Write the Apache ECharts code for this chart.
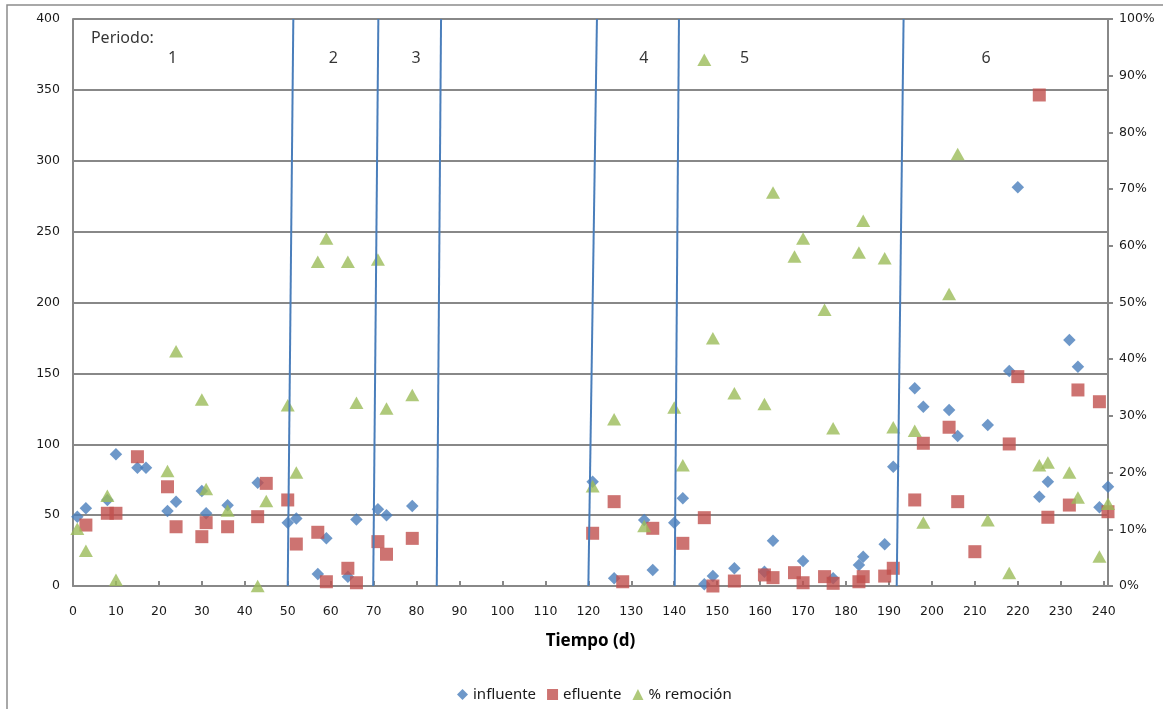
<!DOCTYPE html>
<html>
<head>
<meta charset="utf-8">
<script src="https://cdn.jsdelivr.net/npm/echarts@6/dist/echarts.min.js"></script>
<style>
html,body{margin:0;padding:0;background:#fff;}
#chart{width:1171px;height:709px;}
</style>
</head>
<body>
<div id="chart"></div>
<script>
// ---- Data ----
const influenteDays = [1,3,8,10,15,17,22,24,30,31,36,43,50,52,57,59,64,66,71,73,79,121,126,133,135,140,142,147,149,154,161,163,170,177,183,184,189,191,196,198,204,206,213,218,220,225,227,232,234,239,241];
const influenteVals = [48.9,54.8,60.7,92.9,83.5,83.5,52.9,59.5,67,51.3,57,72.9,44.7,47.7,8.5,33.6,6.6,47,54.1,50,56.4,73.6,5.4,46.6,11.3,44.7,61.9,1.2,7,12.5,10,32,17.6,5.4,14.8,20.7,29.4,84.2,139.5,126.5,124.2,105.8,113.6,151.7,281.3,63,73.6,173.5,154.7,55.5,70];

const efluenteDays = [3,8,10,15,22,24,30,31,36,43,45,50,52,57,59,64,66,71,73,79,121,126,128,135,142,147,149,154,161,163,168,170,175,177,183,184,189,191,196,198,204,206,210,218,220,225,227,232,234,239,241];
const efluenteVals = [43,51.3,51.3,91.2,70,41.8,34.8,44.7,41.8,48.9,72.4,60.7,29.6,37.9,3,12.5,2.3,31.3,22.4,33.6,37.2,59.5,3,40.7,30.1,48.2,0,3.5,7.8,5.9,9.4,2.3,6.6,1.9,3,6.6,7,12.5,60.7,100.7,112,59.5,24.2,100.2,147.7,346.4,48.5,57.1,138.3,130,52.4];

const remocionDays = [1,3,8,10,22,24,30,31,36,43,45,50,52,57,59,64,66,71,73,79,121,126,133,140,142,147,149,154,161,163,168,170,175,177,183,184,189,191,196,198,204,206,213,218,225,227,232,234,239,241];
const remocionVals = [10.1,6.2,15.9,1.1,20.3,41.4,32.9,17.1,13.3,0,15,31.9,20,57.2,61.3,57.2,32.3,57.6,31.3,33.7,17.6,29.4,10.6,31.5,21.3,92.8,43.7,34,32.1,69.4,58.1,61.3,48.7,27.8,58.8,64.4,57.8,28,27.4,11.2,51.5,76.2,11.6,2.3,21.3,21.8,20,15.6,5.2,14.5];

// period boundaries: [day at bottom, day at top]
const periodBounds = [[50,51.3],[69.9,71.1],[84.7,85.7],[120,122],[140.1,141.1],[191.8,193.4]];
// period labels: [day, value, text]
const periodLabels = [[11.5,386.4,'Periodo:'],[23.2,372,'1'],[60.6,372,'2'],[79.9,372,'3'],[132.9,372,'4'],[156.4,372,'5'],[212.6,372,'6']];

const xTicks = {min:0, max:241, interval:10};
const yLeft = {min:0, max:400, interval:50};
const yRight = {min:0, max:100, interval:10};

// ---- Build ----
const zip = (a,b) => a.map((d,i)=>[d,b[i]]);
const gridCol = '#888888';
const tickFont = {fontFamily:'DejaVu Sans', fontSize:12.5, color:'#1a1a1a'};

const boundarySeries = periodBounds.map((b,i)=>({
  type:'line', name:'b'+i, xAxisIndex:0, yAxisIndex:0,
  data:[[b[0],0],[b[1],400]], symbol:'none', silent:true, z:10,
  lineStyle:{color:'#4a7ebb', width:2}
}));

const chart = echarts.init(document.getElementById('chart'), null, {renderer:'canvas'});
chart.setOption({
  backgroundColor:'#fff',
  animation:false,
  grid:{left:73, right:63, top:19, bottom:123, containLabel:false},
  legend:{
    data:[{name:'influente', icon:'diamond'},{name:'efluente', icon:'rect'},{name:'% remoción', icon:'triangle'}],
    left:452, top:682, itemWidth:11, itemHeight:11, itemGap:11,
    textStyle:{fontFamily:'Noto Sans', fontSize:15, color:'#1a1a1a'}
  },
  xAxis:{
    type:'value', min:xTicks.min, max:xTicks.max, interval:xTicks.interval,
    name:'Tiempo (d)', nameLocation:'middle', nameGap:47,
    nameTextStyle:{fontFamily:'Noto Sans', fontSize:17, fontWeight:'bold', color:'#000'},
    axisLine:{show:true, onZero:false, lineStyle:{color:gridCol, width:2}},
    axisTick:{show:true, inside:true, length:5, lineStyle:{color:gridCol, width:2}},
    axisLabel:Object.assign({margin:19, showMaxLabel:false}, tickFont),
    splitLine:{show:false}
  },
  yAxis:[
    {
      type:'value', min:yLeft.min, max:yLeft.max, interval:yLeft.interval, position:'left',
      axisLine:{show:true, lineStyle:{color:gridCol, width:2}},
      axisTick:{show:false},
      axisLabel:Object.assign({margin:13}, tickFont),
      splitLine:{show:true, lineStyle:{color:gridCol, width:2}}
    },
    {
      type:'value', min:yRight.min, max:yRight.max, interval:yRight.interval, position:'right',
      axisLine:{show:true, lineStyle:{color:gridCol, width:2}},
      axisTick:{show:true, inside:false, length:5, lineStyle:{color:gridCol, width:2}},
      axisLabel:Object.assign({margin:11, formatter:'{value}%'}, tickFont),
      splitLine:{show:false}
    }
  ],
  series:[
    {type:'scatter', name:'influente', yAxisIndex:0, symbol:'diamond', symbolSize:12.5,
     itemStyle:{color:'#4a7ebb'}, data:zip(influenteDays, influenteVals), z:3},
    {type:'scatter', name:'efluente', yAxisIndex:0, symbol:'rect', symbolSize:13,
     itemStyle:{color:'#c0504d'}, data:zip(efluenteDays, efluenteVals), z:4},
    {type:'scatter', name:'% remoción', yAxisIndex:1, symbol:'triangle', symbolSize:[14,12.5],
     itemStyle:{color:'#9bbb59'}, data:zip(remocionDays, remocionVals), z:5},
    ...boundarySeries,
    {type:'scatter', name:'labels', yAxisIndex:0, symbolSize:0, silent:true, z:11,
     data:periodLabels.map(p=>({value:[p[0],p[1]], name:p[2]})),
     label:{show:true, position:'inside', formatter:p=>p.name, fontFamily:'Noto Sans', fontSize:16, color:'#000'}}
  ],
  graphic:[{
    type:'polyline', silent:true, z:-1,
    shape:{points:[[7,712],[7,5],[1163,5]]},
    style:{stroke:'#8c8c8c', lineWidth:1.5, fill:null}
  }]
});
</script>
</body>
</html>
